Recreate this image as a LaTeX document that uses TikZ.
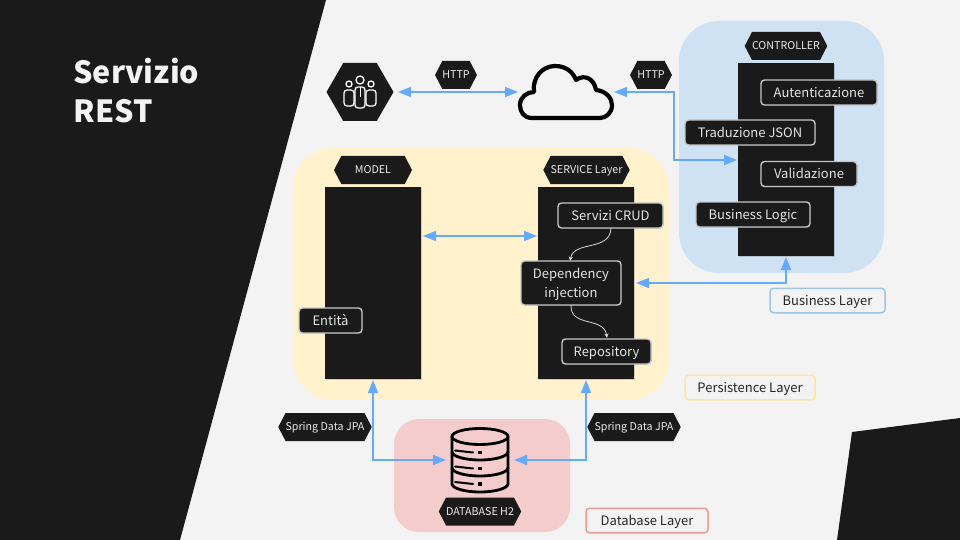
\documentclass[tikz,border=0pt]{standalone}
\usepackage{xcolor}
\usepackage{fontspec}
\setmainfont{Noto Sans CJK JP}
\usetikzlibrary{positioning, arrows.meta, shapes.symbols, shadows}
\definecolor{slidebg}{HTML}{F3F3F3}
\definecolor{slideblack}{HTML}{1A1A1A}
\definecolor{linkblue}{HTML}{66AAFF}
\definecolor{areablue}{HTML}{CFE2F3}
\definecolor{areayellow}{HTML}{FFF2CC}
\definecolor{areared}{HTML}{F4CCCC}
\definecolor{edgeblue}{HTML}{9FC5E8}
\definecolor{edgeyellow}{HTML}{FFE599}
\definecolor{edgered}{HTML}{EA9999}
\tikzset{
    x=1pt, y=-1pt,
    every node/.style={inner sep=0pt, outer sep=0pt},
    column/.style={fill=slideblack, anchor=north west, minimum width=96pt, drop shadow={shadow xshift=0.5pt, shadow yshift=-1pt, opacity=.35}},
    hexlabel/.style={signal, signal to=east and west, signal pointer angle=125, fill=slideblack, text=white!92!black, font=\fontsize{10.7}{14}\selectfont, text height=7.8pt, text depth=0pt, minimum height=28pt, minimum width=#1},
    itembox/.style={draw=white!78!black, line width=1.4pt, fill=slideblack, text=white!90!black, rounded corners=3.5pt, font=\fontsize{13}{19}\selectfont, text height=9.6pt, text depth=0pt, align=center, minimum height=25pt, minimum width=#1, drop shadow={shadow xshift=0.6pt, shadow yshift=-0.6pt, opacity=.3}},
    layerbox/.style={draw=#1, line width=1.5pt, fill=slidebg, text=black!85, rounded corners=3.5pt, font=\fontsize{13}{17}\selectfont, text height=10.4pt, text depth=0pt, minimum height=24.5pt},
    link/.style={draw=linkblue, line width=1.6pt, {Triangle[length=13pt, width=10pt]}-{Triangle[length=13pt, width=10pt]}},
    flow/.style={draw=white!85!black, line width=0.8pt, -{Stealth[length=4.5pt, width=4pt]}},
    icon/.style={draw=black, line width=2.8pt, line join=round, line cap=round},
    person/.style={draw=white, line width=1.3pt, fill=slideblack}
}

\begin{document}
\begin{tikzpicture}
    \useasboundingbox (0, 0) rectangle (960, 540);
    \fill [slidebg] (0, 0) rectangle (960, 540);
    \fill [slideblack] (0, 0) -- (326, 0) -- (180, 540) -- (0, 540) -- cycle;
    \fill [slideblack] (852, 432) -- (960, 418) -- (960, 540) -- (837, 540) -- cycle;

    \node [anchor=base west, text=slidebg, font=\fontsize{30.5}{38}\selectfont\bfseries] (title) at (73.5, 83.5) {Servizio};
    \node [anchor=base west, text=slidebg, font=\fontsize{30.5}{38}\selectfont\bfseries] (subtitle) at (73.5, 123) {REST};

    \fill [areablue, rounded corners=40pt] (679, 21) rectangle (884, 273);
    \fill [areayellow, rounded corners=40pt] (293, 148) rectangle (669, 400);
    \fill [areared, rounded corners=25pt] (394, 419) rectangle (570, 532);

    \node [column, minimum height=193pt] (controller) at (738, 63) {};
    \node [column, minimum height=192pt] (model) at (325, 187) {};
    \node [column, minimum height=192pt] (service) at (538, 187) {};

    \node [hexlabel=78pt] (controllerlabel) at (786, 46) {CONTROLLER};
    \node [hexlabel=78pt] (modellabel) at (373, 170) {MODEL};
    \node [hexlabel=79pt] (servicelabel) at (586.5, 170) {SERVICE Layer};
    \node [hexlabel=39pt] (httpleft) at (456, 75) {HTTP};
    \node [hexlabel=39pt] (httpright) at (651, 75) {HTTP};
    \node [hexlabel=90pt] (jpaleft) at (325, 427) {Spring Data JPA};
    \node [hexlabel=90pt] (jparight) at (634, 427) {Spring Data JPA};
    \node [hexlabel=78pt] (dblabel) at (480, 511.5) {DATABASE H2};

    \node [itembox=116pt] (auth) at (819, 92.5) {Autenticazione};
    \node [itembox=130pt] (json) at (750, 132.5) {Traduzione JSON};
    \node [itembox=96pt] (valid) at (809, 174) {Validazione};
    \node [itembox=114pt] (logic) at (753, 214.5) {Business Logic};
    \node [itembox=105pt] (crud) at (610.5, 215.5) {Servizi CRUD};
    \node [itembox=100pt, minimum height=44pt, text height=28.6pt] (inject) at (571, 283) {Dependency\\injection};
    \node [itembox=89pt] (repo) at (606.5, 351.5) {Repository};
    \node [itembox=63pt] (entity) at (330.5, 320.5) {Entità};

    \node [layerbox=edgeblue, minimum width=115pt] (businesslayer) at (827.5, 300.5) {Business Layer};
    \node [layerbox=edgeyellow, minimum width=130pt] (persistlayer) at (750, 387.5) {Persistence Layer};
    \node [layerbox=edgered, minimum width=122pt] (dblayer) at (647, 520.5) {Database Layer};

    \node [signal, signal to=east and west, signal pointer angle=120, fill=slideblack, minimum width=67pt, minimum height=58pt] (users) at (360, 92) {};
    \draw [person, rounded corners=3pt] (344, 90) -- (354, 90) -- (354, 106) -- (344, 106) -- cycle;
    \draw [person, rounded corners=3pt] (366, 90) -- (376, 90) -- (376, 106) -- (366, 106) -- cycle;
    \draw [person] (349, 84) circle (3);
    \draw [person] (371, 84) circle (3);
    \draw [person, rounded corners=3pt] (355, 87) -- (365, 87) -- (365, 108) -- (355, 108) -- cycle;
    \draw [person] (360, 80) circle (4);
    \draw [white, line width=1pt] (360, 87) -- (360, 97);

    \node [minimum width=96pt, minimum height=56pt] (cloud) at (566, 92) {};
    \draw [icon, line width=4.2pt] (532, 118) .. controls (524, 118) and (520, 112) .. (520, 105) .. controls (520, 97) and (527, 92) .. (534, 92) .. controls (532, 78) and (542, 66) .. (555, 66) .. controls (566, 66) and (573, 72) .. (576, 80) .. controls (584, 74) and (594, 78) .. (596, 90) .. controls (606, 91) and (612, 98) .. (612, 105) .. controls (612, 113) and (606, 118) .. (600, 118) -- cycle;

    \node [minimum width=68pt, minimum height=66pt] (database) at (480, 460) {};
    \draw [icon] (480, 436.5) ellipse (28 and 8);
    \draw [icon] (452, 436.5) -- (452, 484) .. controls (452, 488) and (464, 492) .. (480, 492) .. controls (496, 492) and (508, 488) .. (508, 484) -- (508, 436.5);
    \foreach \ybase in {452, 468} {
        \draw [icon] (452, \ybase) .. controls (452, \ybase + 4) and (464, \ybase + 8) .. (480, \ybase + 8) .. controls (496, \ybase + 8) and (508, \ybase + 4) .. (508, \ybase);
    }
    \foreach \ybase in {452.5, 468.5, 484} {
        \draw [icon, line width=2pt] (455, \ybase - 2) -- (473, \ybase);
        \fill [black] (478, \ybase - 1.8) rectangle (482, \ybase + 1.8);
    }

    \coordinate (httpbend) at (674, 92);
    \coordinate (entrance) at (737, 160);
    \coordinate (modelgap) at (423, 236);
    \coordinate (servicein) at (537, 236);
    \coordinate (serviceout) at (636, 283);
    \coordinate (controllerin) at (786, 257);
    \coordinate (modelin) at (373, 380);
    \coordinate (servicedown) at (586, 380);
    \coordinate (usersgap) at (398, 92);

    \path [link] (usersgap) -- (cloud.west);
    \path [link] (cloud.east) -- (httpbend) |- (entrance);
    \path [link] (modelgap) -- (servicein);
    \path [link] (serviceout) -| (controllerin);
    \path [link] (modelin) |- (database.west);
    \path [link] (servicedown) |- (database.east);

    \draw [flow] (611, 228) .. controls (610, 252) and (574, 240) .. (570, 261);
    \draw [flow] (inject.south) .. controls (570, 328) and (604, 316) .. (607, 338);
\end{tikzpicture}
\end{document}
